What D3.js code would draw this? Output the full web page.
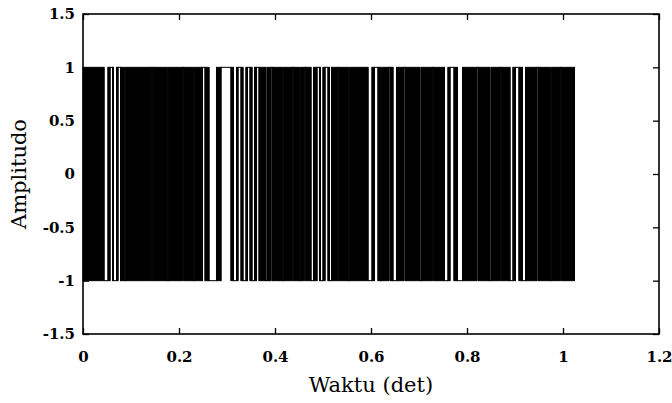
<!DOCTYPE html>
<html>
<head>
<meta charset="utf-8">
<script src="https://cdn.jsdelivr.net/npm/d3@7"></script>
<style>
  html, body { margin: 0; padding: 0; background: #fff; }
  svg { display: block; }
</style>
</head>
<body>
<svg id="chart" width="672" height="403"></svg>
<script>
// ---- data ----
const xTickValues = [0, 0.2, 0.4, 0.6, 0.8, 1, 1.2];
const xTickLabels = ["0", "0.2", "0.4", "0.6", "0.8", "1", "1.2"];
const yTickValues = [-1.5, -1, -0.5, 0, 0.5, 1, 1.5];
const yTickLabels = ["-1.5", "-1", "-0.5", "0", "0.5", "1", "1.5"];
const signalStart = 0;
const signalEnd = 1.024;
const signalHigh = 1;
const signalLow = -1;
// intervals where the signal holds a constant level (visible white gaps);
// elsewhere the signal toggles too fast to resolve (solid black)
const holdStart = [0.0438, 0.0563, 0.0635, 0.0729, 0.0860, 0.1423, 0.1756, 0.2069, 0.2298, 0.2490,
  0.2625, 0.2875, 0.3135, 0.3229, 0.3333, 0.3427, 0.3521, 0.3615, 0.3812, 0.3917,
  0.4152, 0.4360, 0.4506, 0.4610, 0.4750, 0.4875, 0.4948, 0.5042, 0.5135, 0.5298,
  0.5527, 0.5938, 0.6073, 0.6194, 0.6375, 0.6458, 0.6687, 0.7021, 0.7277, 0.7531,
  0.7646, 0.7802, 0.8208, 0.8471, 0.8694, 0.8896, 0.9010, 0.9156, 0.9458, 0.9735, 0.9944];
const holdEnd = [0.0521, 0.0615, 0.0698, 0.0781, 0.0890, 0.1452, 0.1785, 0.2098, 0.2327, 0.2542,
  0.2781, 0.3083, 0.3198, 0.3292, 0.3396, 0.3479, 0.3573, 0.3667, 0.3842, 0.3946,
  0.4181, 0.4390, 0.4535, 0.4640, 0.4802, 0.4927, 0.5000, 0.5104, 0.5177, 0.5327,
  0.5556, 0.6021, 0.6146, 0.6223, 0.6404, 0.6531, 0.6716, 0.7050, 0.7306, 0.7604,
  0.7729, 0.7906, 0.8237, 0.8500, 0.8723, 0.8958, 0.9083, 0.9219, 0.9487, 0.9765, 0.9973];
const holdLevel = [-1, 1, -1, 1, -1, 1, -1, 1, -1, 1,
  -1, 1, -1, 1, -1, 1, -1, 1, -1, 1,
  -1, 1, -1, 1, -1, 1, -1, 1, -1, 1,
  -1, -1, 1, -1, 1, -1, 1, -1, 1, -1,
  1, -1, 1, -1, 1, -1, 1, -1, 1, -1, 1];

// ---- layout ----
const svg = d3.select("#chart");
const L = 83, R = 659, T = 14, B = 334;
const x = d3.scaleLinear().domain([0, 1.2]).range([L, R]);
const y = d3.scaleLinear().domain([-1.5, 1.5]).range([B, T]);
const serif = "'DejaVu Serif', 'Liberation Serif', serif";

// dense segments = complement of holds
const holds = holdStart.map((s, i) => ({ s, e: holdEnd[i], lvl: holdLevel[i] }));
const dense = [];
let cur = signalStart;
holds.forEach(h => { if (h.s > cur) dense.push([cur, h.s]); cur = h.e; });
if (cur < signalEnd) dense.push([cur, signalEnd]);

const g = svg.append("g");
g.selectAll("rect.dense").data(dense).enter().append("rect")
  .attr("class", "dense")
  .attr("x", d => x(d[0]))
  .attr("y", y(signalHigh))
  .attr("width", d => x(d[1]) - x(d[0]))
  .attr("height", y(signalLow) - y(signalHigh))
  .attr("fill", "#000")
  .attr("stroke", "#000")
  .attr("stroke-width", 1.0);

g.selectAll("path.hold").data(holds).enter().append("path")
  .attr("class", "hold")
  .attr("d", d => `M${x(d.s)},${y(-d.lvl)}L${x(d.s)},${y(d.lvl)}L${x(d.e)},${y(d.lvl)}L${x(d.e)},${y(-d.lvl)}`)
  .attr("fill", "none")
  .attr("stroke", "#000")
  .attr("stroke-width", 1.0);

// ---- axes ----
function styleAxis(sel, showLabels) {
  sel.select(".domain").remove();
  sel.selectAll(".tick line").attr("stroke", "#000").attr("stroke-width", 1.3);
  sel.selectAll(".tick text")
    .attr("fill", "#000")
    .style("font-family", serif)
    .style("font-size", "15px")
    .style("font-weight", "bold");
  if (!showLabels) sel.selectAll(".tick text").remove();
}
svg.append("g").attr("transform", `translate(0,${B})`)
  .call(d3.axisBottom(x).tickValues(xTickValues).tickFormat((d, i) => xTickLabels[i]).tickSize(-6).tickPadding(17))
  .call(s => styleAxis(s, true));
svg.append("g").attr("transform", `translate(0,${T})`)
  .call(d3.axisTop(x).tickValues(xTickValues).tickSize(-6))
  .call(s => styleAxis(s, false));
svg.append("g").attr("transform", `translate(${L},0)`)
  .call(d3.axisLeft(y).tickValues(yTickValues).tickFormat((d, i) => yTickLabels[i]).tickSize(-6).tickPadding(8))
  .call(s => styleAxis(s, true));
svg.append("g").attr("transform", `translate(${R},0)`)
  .call(d3.axisRight(y).tickValues(yTickValues).tickSize(-6))
  .call(s => styleAxis(s, false));

svg.append("rect")
  .attr("x", L).attr("y", T).attr("width", R - L).attr("height", B - T)
  .attr("fill", "none").attr("stroke", "#000").attr("stroke-width", 1.6);

svg.append("text")
  .attr("x", (L + R) / 2).attr("y", 392)
  .attr("text-anchor", "middle")
  .style("font-family", serif).style("font-size", "21px")
  .text("Waktu (det)");
svg.append("text")
  .attr("transform", `translate(26,${(T + B) / 2}) rotate(-90)`)
  .attr("text-anchor", "middle")
  .style("font-family", serif).style("font-size", "21px")
  .text("Amplitudo");
</script>
</body>
</html>
